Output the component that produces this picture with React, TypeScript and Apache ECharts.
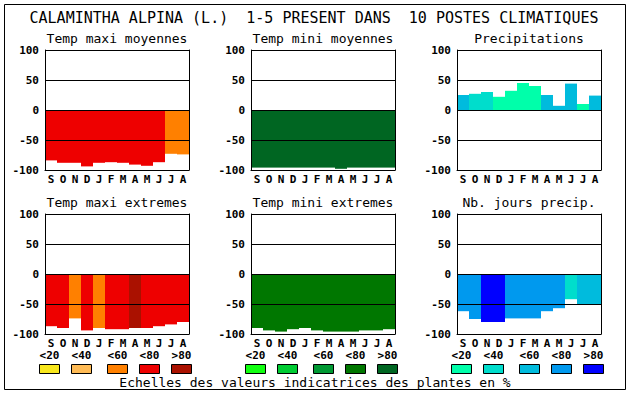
import React, { useEffect, useRef } from "react";
import * as echarts from "echarts";

const MONTHS = ["S", "O", "N", "D", "J", "F", "M", "A", "M", "J", "J", "A"];
const CLASS_LABELS = ["<20", "<40", "<60", "<80", ">80"];
const PALETTE_MAXI = ["#F8E71C", "#FFBB55", "#FF8000", "#EE0000", "#AA1100"];
const PALETTE_MINI = ["#11FF11", "#00CC33", "#009933", "#007700", "#006622"];
const PALETTE_PREC = ["#00FFAA", "#00DDCC", "#00BBDD", "#0099EE", "#0000FF"];

const tmaxMoyValues = [-84, -88, -88, -94, -88, -87, -88, -91, -93, -87, -73, -74];
const tmaxMoyClasses = [3, 3, 3, 3, 3, 3, 3, 3, 3, 3, 2, 2];
const tminMoyValues = [-96, -96, -96, -96, -96, -96, -96, -98, -96, -96, -96, -96];
const tminMoyClasses = [4, 4, 4, 4, 4, 4, 4, 4, 4, 4, 4, 4];
const precipValues = [25, 27, 30, 22, 32, 45, 40, 25, 7, 44, 10, 24];
const precipClasses = [2, 1, 1, 0, 0, 0, 0, 2, 2, 2, 0, 2];
const tmaxExtValues = [-87, -90, -74, -94, -90, -92, -92, -90, -90, -87, -84, -80];
const tmaxExtClasses = [3, 3, 2, 3, 2, 3, 3, 4, 3, 3, 3, 3];
const tminExtValues = [-90, -94, -96, -92, -90, -94, -96, -96, -96, -94, -94, -92];
const tminExtClasses = [3, 3, 3, 3, 3, 3, 3, 3, 3, 3, 3, 3];
const nbJoursValues = [-62, -75, -80, -80, -74, -74, -74, -62, -57, -42, -50, -50];
const nbJoursClasses = [3, 3, 4, 4, 3, 3, 3, 3, 3, 1, 2, 2];

const MAIN_TITLE = "CALAMINTHA ALPINA (L.)  1-5 PRESENT DANS  10 POSTES CLIMATIQUES";
const FOOTER = "Echelles des valeurs indicatrices des plantes en %";

const PANELS = [
  { title: "Temp maxi moyennes", values: tmaxMoyValues, classes: tmaxMoyClasses, palette: PALETTE_MAXI },
  { title: "Temp mini moyennes", values: tminMoyValues, classes: tminMoyClasses, palette: PALETTE_MINI },
  { title: "Precipitations", values: precipValues, classes: precipClasses, palette: PALETTE_PREC },
  { title: "Temp maxi extremes", values: tmaxExtValues, classes: tmaxExtClasses, palette: PALETTE_MAXI },
  { title: "Temp mini extremes", values: tminExtValues, classes: tminExtClasses, palette: PALETTE_MINI },
  { title: "Nb. jours precip.", values: nbJoursValues, classes: nbJoursClasses, palette: PALETTE_PREC },
];
const LEGEND_PALETTES = [PALETTE_MAXI, PALETTE_MINI, PALETTE_PREC];

const FONT = "DejaVu Sans Mono";
const COL_LEFT = [45, 251, 457];
const ROW_TOP = [50, 214];
const PW = 144;
const PH = 120;
const LEGEND_OFFSETS = [0, 32, 68, 100, 132];

export default function App() {
  const ref = useRef<HTMLDivElement>(null);
  useEffect(() => {
    if (!ref.current) return;
    const chart = echarts.init(ref.current, null, { renderer: "svg" });
    const grids: any[] = [];
    const xAxes: any[] = [];
    const yAxes: any[] = [];
    const series: any[] = [];
    const graphics: any[] = [];

    graphics.push({
      type: "rect",
      shape: { x: 4.5, y: 4.5, width: 621, height: 385 },
      style: { fill: "none", stroke: "#000", lineWidth: 1 },
      z: 0,
    });
    graphics.push({
      type: "text",
      x: 314,
      y: 18,
      style: { text: MAIN_TITLE, font: `15px "${FONT}"`, fill: "#000", textAlign: "center", textVerticalAlign: "middle" },
    });

    PANELS.forEach((p, i) => {
      const col = i % 3;
      const row = Math.floor(i / 3);
      const left = COL_LEFT[col];
      const top = ROW_TOP[row];
      grids.push({ left, top, width: PW, height: PH, containLabel: false });
      xAxes.push({
        type: "category",
        gridIndex: i,
        data: MONTHS,
        z: 10,
        axisLine: { show: true, onZero: false, lineStyle: { color: "#000", width: 1 } },
        axisTick: { show: false },
        axisLabel: { color: "#000", fontFamily: FONT, fontWeight: "bold", fontSize: 11, margin: 4, interval: 0 },
        splitLine: { show: false },
      });
      yAxes.push({
        type: "value",
        gridIndex: i,
        min: -100,
        max: 100,
        interval: 50,
        z: 10,
        axisLine: { show: true, lineStyle: { color: "#000", width: 1 } },
        axisTick: { show: false },
        axisLabel: { color: "#000", fontFamily: FONT, fontWeight: "bold", fontSize: 11, margin: 6 },
        splitLine: { show: true, lineStyle: { color: "#000", width: 1 } },
      });
      yAxes.push({
        type: "value",
        gridIndex: i,
        position: "right",
        min: -100,
        max: 100,
        interval: 50,
        z: 10,
        axisLine: { show: true, lineStyle: { color: "#000", width: 1 } },
        axisTick: { show: false },
        axisLabel: { show: false },
        splitLine: { show: false },
      });
      series.push({
        type: "bar",
        xAxisIndex: i,
        yAxisIndex: i * 2,
        barWidth: "100%",
        barCategoryGap: 0,
        data: p.values.map((v, k) => ({ value: v, itemStyle: { color: p.palette[p.classes[k]] } })),
        z: 2,
      });
      graphics.push({
        type: "text",
        x: left + PW / 2,
        y: top - 12,
        style: { text: p.title, font: `13px "${FONT}"`, fill: "#000", textAlign: "center", textVerticalAlign: "middle" },
      });
    });

    LEGEND_PALETTES.forEach((pal, g) => {
      const start = COL_LEFT[g] - 6;
      pal.forEach((c, k) => {
        const x = start + LEGEND_OFFSETS[k];
        graphics.push({
          type: "rect",
          shape: { x: x + 0.5, y: 364.5, width: 20, height: 9 },
          style: { fill: c, stroke: "#000", lineWidth: 1 },
        });
        graphics.push({
          type: "text",
          x: x + 10.5,
          y: 355,
          style: { text: CLASS_LABELS[k], font: `bold 11px "${FONT}"`, fill: "#000", textAlign: "center", textVerticalAlign: "middle" },
        });
      });
    });

    graphics.push({
      type: "text",
      x: 315,
      y: 382,
      style: { text: FOOTER, font: `13px "${FONT}"`, fill: "#000", textAlign: "center", textVerticalAlign: "middle" },
    });

    chart.setOption({
      animation: false,
      backgroundColor: "#fff",
      grid: grids,
      xAxis: xAxes,
      yAxis: yAxes,
      series,
      graphic: graphics,
    });
    return () => chart.dispose();
  }, []);
  return (
    <div
      ref={ref}
      style={{ position: "fixed", left: 0, top: 0, width: 630, height: 394, background: "#fff" }}
    />
  );
}
